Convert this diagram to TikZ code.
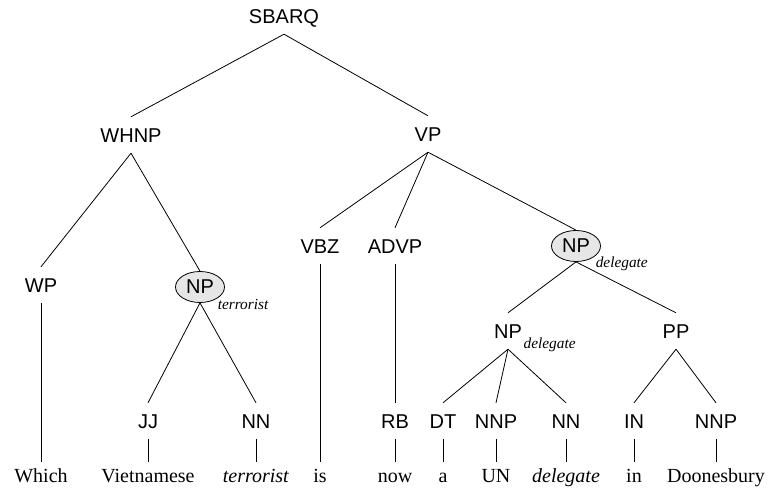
\documentclass[tikz,border=0pt]{standalone}
\usepackage{fontspec}
\setmainfont{Liberation Serif}
\newfontfamily\tagfont{Liberation Sans}
\usetikzlibrary{calc, shapes.geometric}
\definecolor{headgray}{RGB}{230,230,230}
\tikzset{
    my-tag/.style={
        font=\tagfont\fontsize{15}{18}\selectfont, inner xsep=0pt, inner ysep=8pt,
        text height=10.7pt, text depth=0pt
    },
    my-head/.style={
        ellipse, draw, fill=headgray, minimum width=36.75pt, minimum height=23.25pt,
        inner sep=0pt, font=\tagfont\fontsize{15}{18}\selectfont
    },
    my-word/.style={
        font=\fontsize{15}{18}\selectfont, anchor=base, inner xsep=0pt, inner ysep=5pt,
        text height=10pt, text depth=0pt
    },
    my-sub/.style={
        font=\fontsize{11.5}{13}\selectfont\itshape, anchor=base west, inner sep=0pt
    },
}

\begin{document}
\begin{tikzpicture}[x=0.75pt, y=-0.75pt, line width=0.6pt]
        \useasboundingbox (0,0) rectangle (769,493);

        % PHRASE LABELS
        \node[my-tag]  (SBARQ) at (284,16)  {SBARQ};
        \node[my-tag]  (WHNP)  at (131,135) {WHNP};
        \node[my-tag]  (VP)    at (428,134) {VP};
        \node[my-tag]  (WP)    at (41,285)  {WP};
        \node[my-head] (NPT)   at (200,287) {NP};
        \node[my-tag]  (VBZ)   at (320,246) {VBZ};
        \node[my-tag]  (ADVP)  at (395,246) {ADVP};
        \node[my-head] (NPD)   at (576,246) {NP};
        \node[my-tag]  (NPDD)  at (508,331) {NP};
        \node[my-tag]  (PP)    at (676,331) {PP};

        % HEAD WORD SUBSCRIPTS
        \node[my-sub] (NPTSUB)  at ($(NPT.east) + (-7.5, 22)$)   {terrorist};
        \node[my-sub] (NPDSUB)  at ($(NPD.east) + (-5.5, 21)$)   {delegate};
        \node[my-sub] (NPDDSUB) at ($(NPDD.base east) + (1, 10)$) {delegate};

        % PART OF SPEECH TAGS
        \node[my-tag] (JJ)   at (148,421) {JJ};
        \node[my-tag] (NN)   at (256,421) {NN};
        \node[my-tag] (RB)   at (395,421) {RB};
        \node[my-tag] (DT)   at (443,421) {DT};
        \node[my-tag] (NNP)  at (496,421) {NNP};
        \node[my-tag] (NNB)  at (566,421) {NN};
        \node[my-tag] (IN)   at (634,421) {IN};
        \node[my-tag] (NNPB) at (716,421) {NNP};

        % WORDS
        \node[my-word] (WHICH)  at (41,482)  {Which};
        \node[my-word] (VIET)   at (148,482) {Vietnamese};
        \node[my-word] (TERR)   at (256,482) {\textit{terrorist}};
        \node[my-word] (IS)     at (320,482) {is};
        \node[my-word] (NOW)    at (395,482) {now};
        \node[my-word] (A)      at (443,482) {a};
        \node[my-word] (UN)     at (496,482) {UN};
        \node[my-word] (DELE)   at (566,482) {\textit{delegate}};
        \node[my-word] (IIN)    at (634,482) {in};
        \node[my-word] (DOONES) at (716,482) {Doonesbury};

        % UPPER BRANCHES
        \draw (SBARQ.south) -- (WHNP.north);
        \draw (SBARQ.south) -- (VP.north);
        \draw (WHNP.south)  -- (WP.north);
        \draw (WHNP.south)  -- (NPT.north);
        \draw (VP.south)    -- (VBZ.north);
        \draw (VP.south)    -- (ADVP.north);
        \draw (VP.south)    -- (NPD.north);
        \draw (NPD.south)   -- (NPDD.north);
        \draw (NPD.south)   -- (PP.north);

        % LOWER BRANCHES
        \draw (NPT.south)  -- (JJ.north);
        \draw (NPT.south)  -- (NN.north);
        \draw (ADVP.south) -- (RB.north);
        \draw (NPDD.south) -- (DT.north);
        \draw (NPDD.south) -- (NNP.north);
        \draw (NPDD.south) -- (NNB.north);
        \draw (PP.south)   -- (IN.north);
        \draw (PP.south)   -- (NNPB.north);

        % TAGS TO WORDS
        \draw (WP.south)   -- (WHICH.north);
        \draw (JJ.south)   -- (VIET.north);
        \draw (NN.south)   -- (TERR.north);
        \draw (VBZ.south)  -- (IS.north);
        \draw (RB.south)   -- (NOW.north);
        \draw (DT.south)   -- (A.north);
        \draw (NNP.south)  -- (UN.north);
        \draw (NNB.south)  -- (DELE.north);
        \draw (IN.south)   -- (IIN.north);
        \draw (NNPB.south) -- (DOONES.north);

    \end{tikzpicture}
\end{document}
